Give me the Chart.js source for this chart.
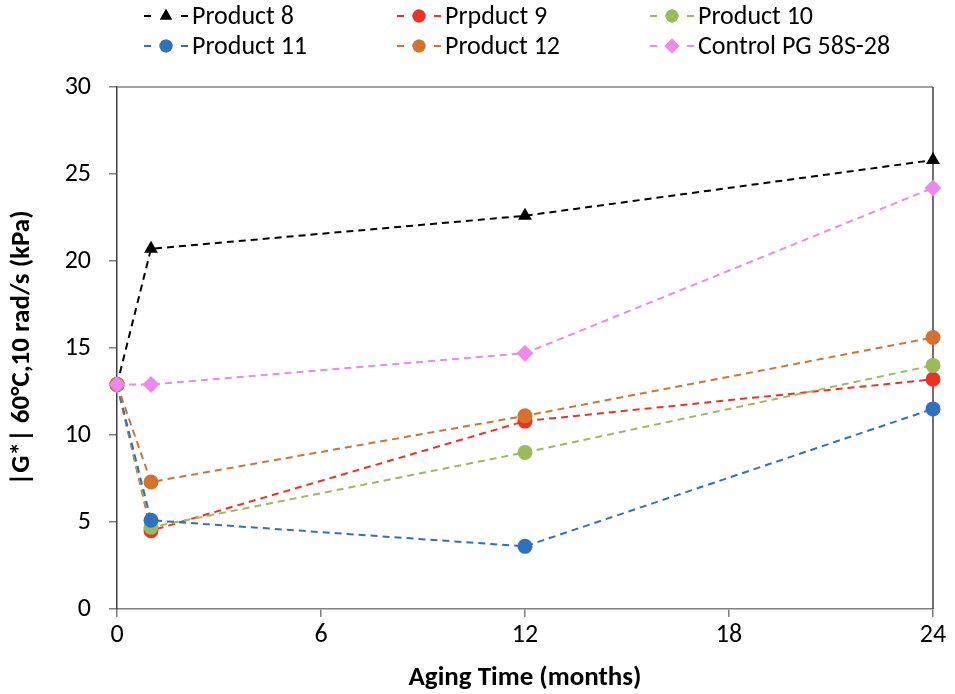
<!DOCTYPE html>
<html>
<head>
<meta charset="utf-8">
<script src="https://cdn.jsdelivr.net/npm/chart.js@4.4.1/dist/chart.umd.min.js"></script>
<style>
html,body{margin:0;padding:0;background:#fff;}
#wrap{width:955px;height:694px;position:relative;}
</style>
</head>
<body>
<div id="wrap"><canvas id="c" width="955" height="694"></canvas></div>
<script>
const months = [0, 1, 12, 24];
const seriesNames = ["Product 8", "Prpduct 9", "Product 10", "Product 11", "Product 12", "Control PG 58S-28"];
const product8 = [12.9, 20.7, 22.6, 25.8];
const product9 = [12.9, 4.5, 10.8, 13.2];
const product10 = [12.9, 4.7, 9.0, 14.0];
const product11 = [12.9, 5.1, 3.6, 11.5];
const product12 = [12.9, 7.3, 11.1, 15.6];
const controlPG = [12.9, 12.9, 14.7, 24.2];
const xTicks = [0, 6, 12, 18, 24];
const yTicks = [0, 5, 10, 15, 20, 25, 30];

const FONT = "Carlito, Lato, 'Liberation Sans', sans-serif";
const colors = ["#000000", "#EE3124", "#9BBB59", "#2F71C1", "#D4732E", "#EE88EE"];
const styles = ["triangle", "circle", "circle", "circle", "circle", "rectRot"];
const radii = [8, 7.5, 7.5, 7.5, 7.5, 8.5];
const allData = [product8, product9, product10, product11, product12, controlPG];

const datasets = allData.map((vals, i) => ({
  label: seriesNames[i],
  data: months.map((m, j) => ({x: m, y: vals[j]})),
  borderColor: colors[i],
  backgroundColor: colors[i],
  pointBackgroundColor: colors[i],
  pointBorderColor: colors[i],
  pointStyle: styles[i],
  pointRadius: radii[i],
  pointBorderWidth: 0,
  borderWidth: 2,
  borderDash: [7, 5],
  tension: 0,
  clip: false,
  order: 6 - i
}));

const legendPlugin = {
  id: 'customLegend',
  afterDraw(chart) {
    const ctx = chart.ctx;
    const cols = [166, 419, 672];
    const rows = [16, 46];
    ctx.save();
    seriesNames.forEach((name, i) => {
      const cx = cols[i % 3];
      const cy = rows[Math.floor(i / 3)];
      ctx.strokeStyle = colors[i];
      ctx.lineWidth = 2;
      ctx.setLineDash([]);
      ctx.beginPath();
      ctx.moveTo(cx - 22, cy); ctx.lineTo(cx - 15, cy);
      ctx.moveTo(cx + 15, cy); ctx.lineTo(cx + 22, cy);
      ctx.stroke();
      ctx.fillStyle = colors[i];
      Chart.helpers.drawPoint(ctx, {pointStyle: styles[i], radius: radii[i] - 1, rotation: 0, borderWidth: 0}, cx, cy);
      ctx.fill();
      ctx.fillStyle = "#000";
      ctx.font = "26px " + FONT;
      ctx.textBaseline = "middle";
      ctx.textAlign = "left";
      ctx.fillText(name, cx + 26, cy + 1);
    });
    ctx.restore();
  }
};

const framePlugin = {
  id: 'frame',
  beforeDatasetsDraw(chart) {
    const a = chart.chartArea;
    const ctx = chart.ctx;
    ctx.save();
    ctx.lineWidth = 1.5;
    ctx.strokeStyle = "#808080";
    ctx.beginPath();
    ctx.moveTo(a.left, a.top); ctx.lineTo(a.right, a.top);
    ctx.stroke();
    ctx.strokeStyle = "#404040";
    ctx.beginPath();
    ctx.moveTo(a.right, a.top); ctx.lineTo(a.right, a.bottom);
    ctx.stroke();
    ctx.restore();
  }
};

new Chart(document.getElementById('c'), {
  type: 'line',
  data: { datasets },
  options: {
    responsive: false,
    animation: false,
    layout: { padding: { top: 87, right: 22, left: 0, bottom: 0 } },
    plugins: { legend: { display: false }, tooltip: { enabled: false } },
    scales: {
      x: {
        type: 'linear', min: 0, max: 24,
        afterBuildTicks(s) { s.ticks = xTicks.map(v => ({value: v})); },
        afterFit(s) { s.height = 85; },
        grid: { drawOnChartArea: false, drawTicks: true, tickLength: 8, color: "#808080", lineWidth: 1.5 },
        border: { display: true, color: "#808080", width: 1.5 },
        ticks: { color: "#000", font: { family: FONT, size: 26 }, padding: 3, maxRotation: 0 },
        title: { display: true, text: "Aging Time (months)", color: "#000", font: { family: FONT, size: 27, weight: 'bold' }, padding: { top: 0, bottom: 0 } }
      },
      y: {
        type: 'linear', min: 0, max: 30,
        afterBuildTicks(s) { s.ticks = yTicks.map(v => ({value: v})); },
        afterFit(s) { s.width = 117; },
        grid: { drawOnChartArea: false, drawTicks: true, tickLength: 8, color: "#808080", lineWidth: 1.5 },
        border: { display: true, color: "#404040", width: 1.5 },
        ticks: { color: "#000", font: { family: FONT, size: 26 }, padding: 18 },
        title: { display: true, text: "|G*| 60°C,10 rad/s (kPa)", color: "#000", font: { family: FONT, size: 27, weight: 'bold' }, padding: { top: 6, bottom: 0 } }
      }
    }
  },
  plugins: [legendPlugin, framePlugin]
});
</script>
</body>
</html>
